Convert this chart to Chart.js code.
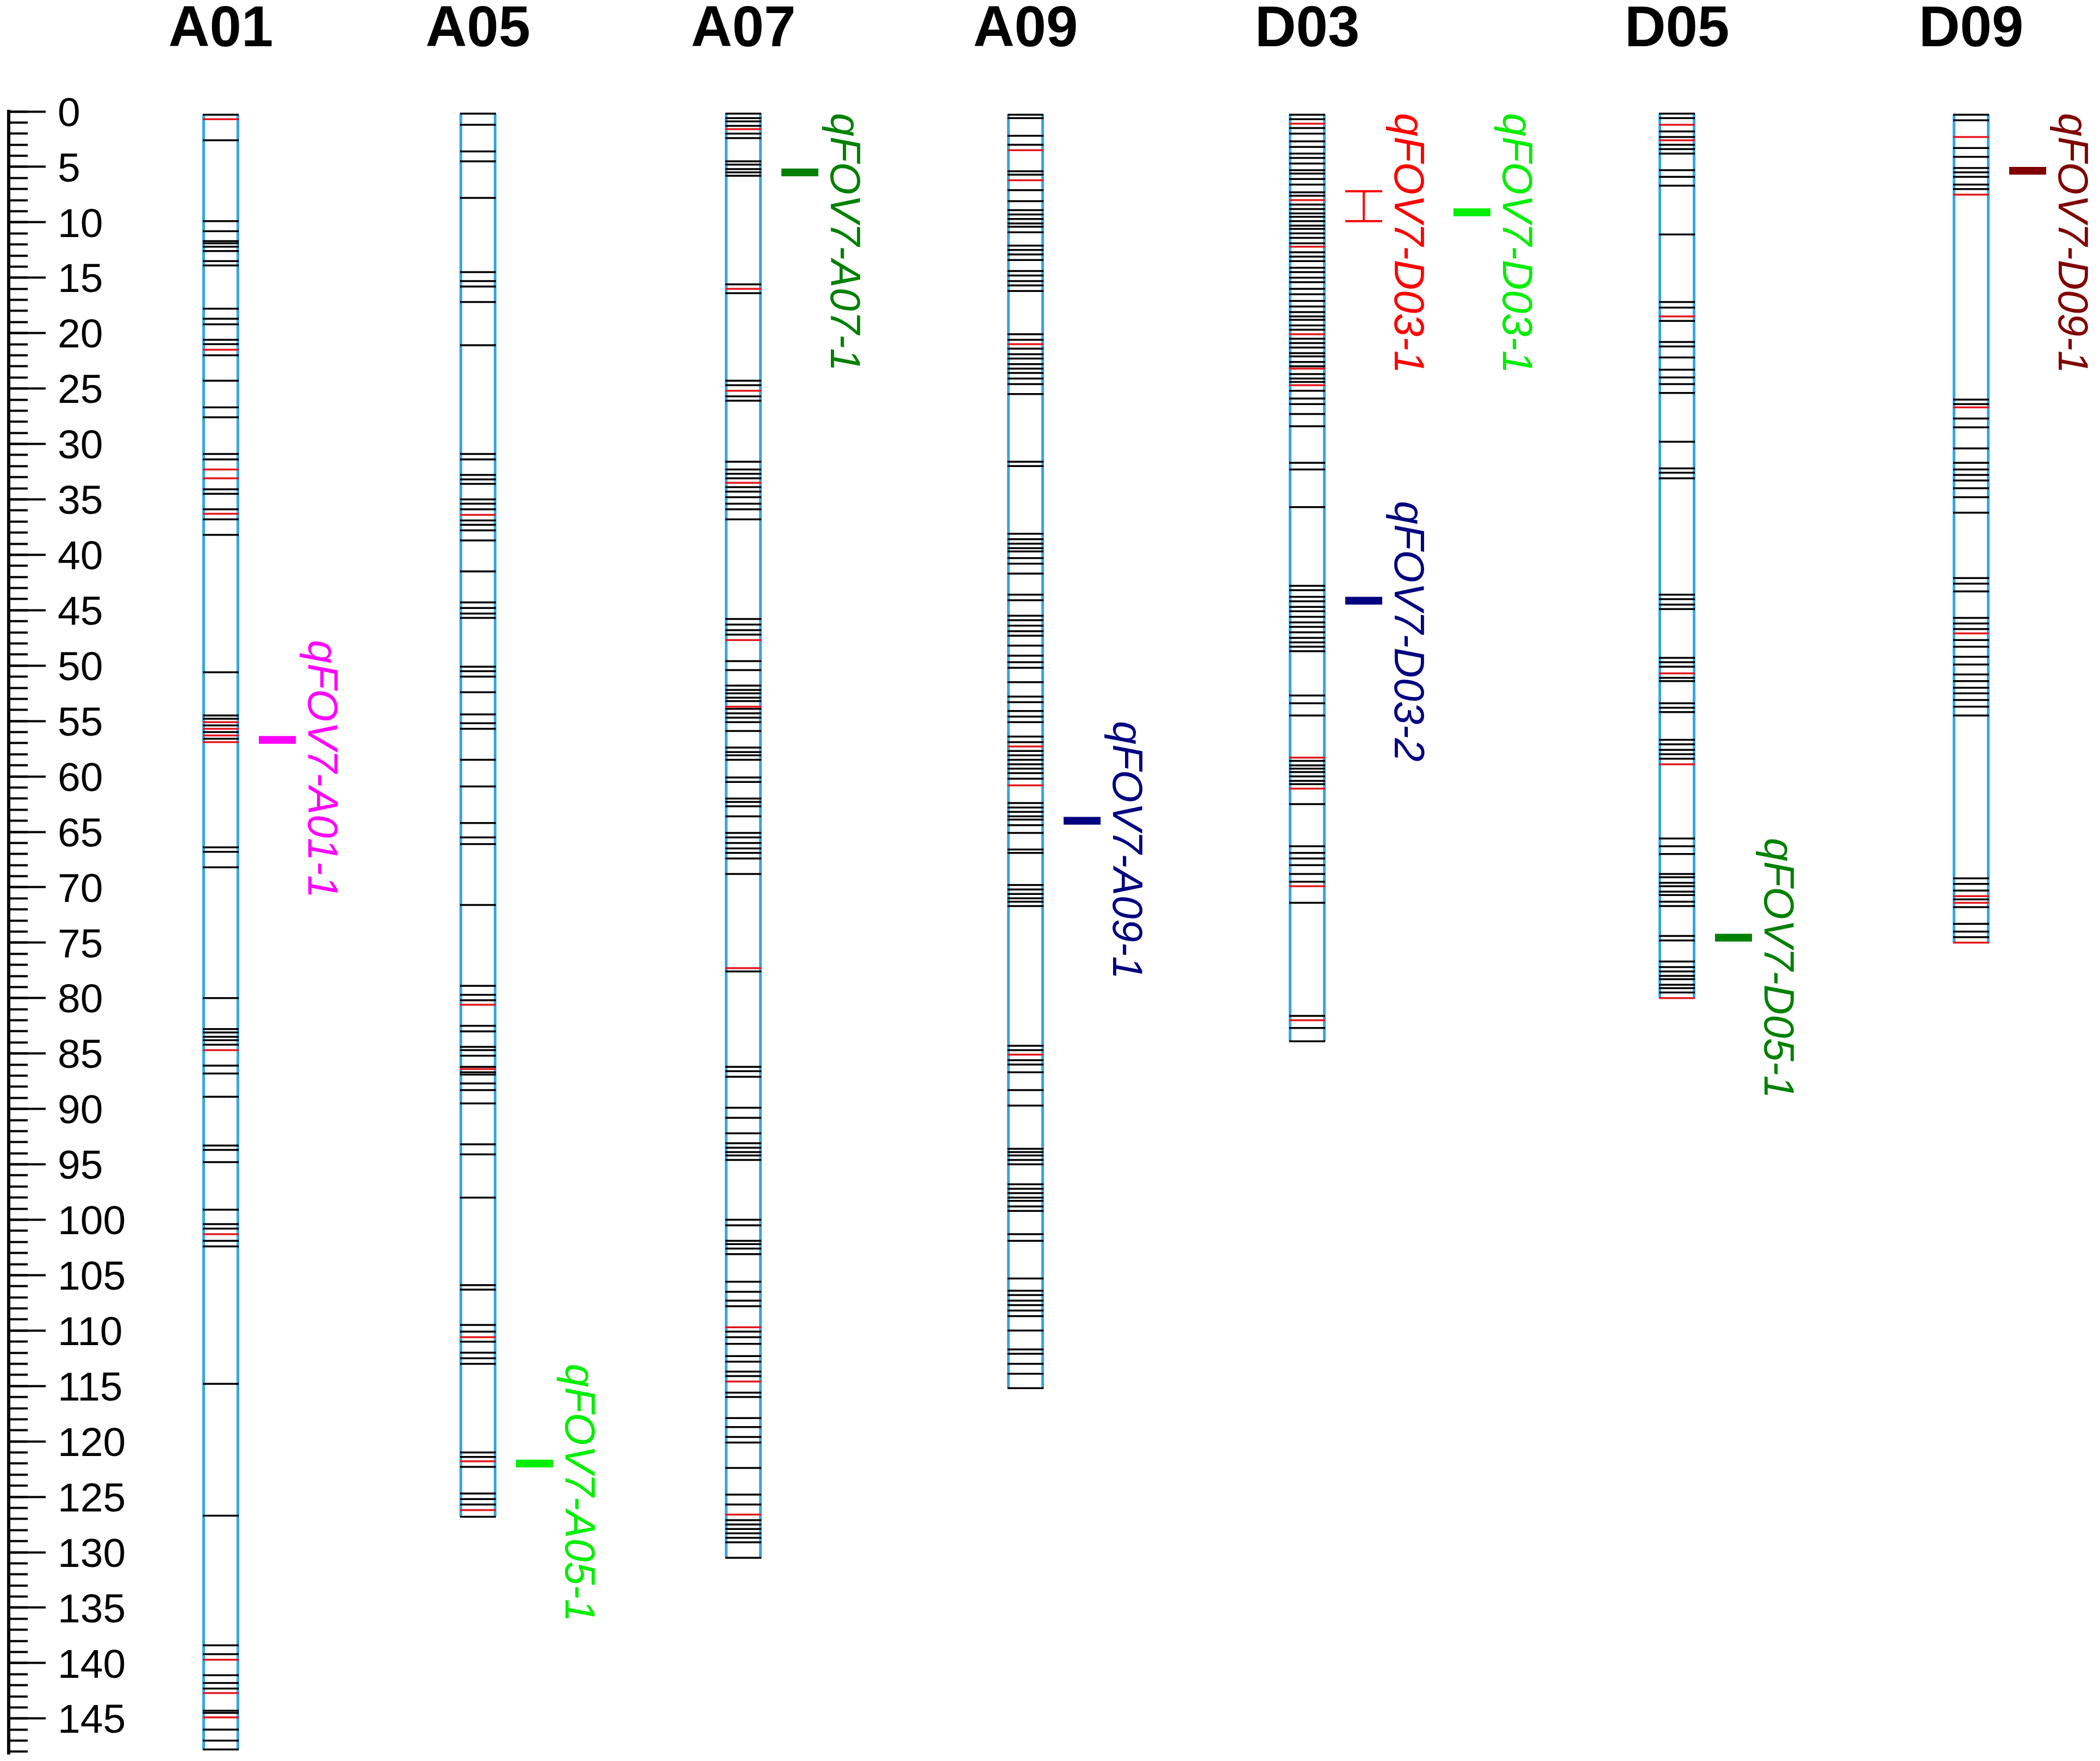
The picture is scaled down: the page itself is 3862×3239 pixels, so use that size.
<!DOCTYPE html>
<html>
<head>
<meta charset="utf-8">
<script src="https://cdn.jsdelivr.net/npm/chart.js@4.4.1/dist/chart.umd.min.js"></script>
<style>
html, body { margin: 0; padding: 0; background: #fff; }
#wrap { position: relative; width: 3862px; height: 3239px; }
#map, #ruler { position: absolute; left: 0; top: 0; }
</style>
</head>
<body>
<div id="wrap">
<canvas id="map" width="3862" height="3239"></canvas>
<canvas id="ruler" width="300" height="3239"></canvas>
</div>
<script>
// linkage groups
const chromNames = ['A01', 'A05', 'A07', 'A09', 'D03', 'D05', 'D09'];

// marker positions in cM (black = marker, red = highlighted marker)
const a01Black = [0.3, 2.6, 9.9, 10.8, 11.7, 11.9, 12.2, 12.6, 13.5, 13.9, 17.8, 18.7, 19.2, 20.6, 21.0, 22.0, 24.3, 26.7, 27.6, 30.9, 31.4, 34.1, 34.5, 35.9, 36.8, 38.2, 50.6, 54.5, 54.8, 55.4, 56.0, 56.6, 66.4, 66.8, 68.2, 80.0, 82.8, 83.1, 83.5, 83.8, 84.2, 86.1, 86.8, 88.9, 93.3, 93.7, 94.8, 99.1, 100.4, 100.8, 101.9, 102.4, 114.8, 126.7, 138.4, 139.2, 141.1, 141.8, 142.3, 144.3, 144.5, 146.0, 147.0, 147.8];
const a01Red = [0.7, 21.5, 32.3, 33.1, 36.3, 55.1, 55.7, 56.3, 56.9, 84.7, 101.3, 139.7, 142.7, 144.9];

const a05Black = [0.2, 1.2, 3.6, 4.5, 7.8, 14.5, 15.3, 15.8, 17.2, 21.1, 30.9, 31.4, 32.8, 33.2, 33.6, 35.0, 35.4, 35.9, 36.9, 37.3, 37.8, 38.7, 41.5, 44.3, 44.8, 45.3, 45.7, 50.1, 50.5, 51.0, 52.4, 54.4, 55.2, 55.7, 58.5, 60.9, 64.2, 65.5, 66.1, 71.6, 78.9, 79.7, 80.2, 82.5, 83.0, 84.4, 84.7, 85.2, 86.2, 86.7, 86.9, 87.7, 88.3, 89.5, 93.2, 94.1, 98.0, 105.9, 106.3, 109.5, 110.1, 111.0, 112.0, 112.5, 113.0, 121.0, 121.4, 122.3, 124.7, 125.2, 125.7, 126.8];
const a05Red = [36.4, 80.6, 86.4, 110.6, 121.8, 126.2];

const a07Black = [0.2, 0.6, 0.9, 1.3, 2.0, 2.4, 4.5, 4.8, 5.2, 5.5, 5.8, 15.6, 16.4, 24.3, 24.7, 25.7, 26.1, 31.6, 32.3, 32.7, 33.1, 33.9, 34.3, 34.8, 35.4, 35.9, 36.8, 45.8, 46.3, 46.8, 47.2, 49.6, 50.4, 51.8, 52.2, 52.5, 52.9, 53.2, 53.9, 54.3, 54.7, 55.1, 55.9, 57.4, 57.8, 58.1, 58.5, 60.1, 60.5, 62.0, 62.3, 62.7, 63.6, 65.1, 65.5, 66.0, 66.5, 66.9, 67.4, 68.8, 77.6, 86.2, 86.6, 87.1, 89.9, 90.8, 92.2, 93.1, 93.5, 93.9, 94.2, 94.6, 100.0, 100.5, 101.9, 102.2, 102.6, 103.1, 105.6, 106.5, 107.3, 107.8, 110.1, 110.6, 111.2, 112.3, 112.8, 113.7, 114.1, 115.6, 116.0, 117.9, 118.7, 119.6, 120.1, 122.4, 124.8, 125.7, 127.1, 127.5, 127.9, 128.3, 128.7, 129.1, 130.5];
const a07Red = [1.6, 16.0, 25.2, 33.5, 47.7, 53.7, 77.3, 109.7, 114.6, 126.6];

const a09Black = [0.3, 0.6, 2.2, 3.0, 5.4, 5.7, 7.1, 8.1, 8.9, 9.3, 9.7, 10.1, 10.4, 10.9, 12.1, 12.5, 12.9, 13.4, 14.4, 14.8, 15.3, 15.7, 16.2, 20.1, 20.6, 21.4, 21.9, 22.3, 22.8, 23.2, 23.6, 24.1, 24.6, 25.5, 31.6, 32.0, 38.1, 38.6, 39.0, 39.4, 39.7, 40.3, 40.8, 41.7, 43.6, 44.1, 45.5, 45.9, 46.4, 46.9, 47.3, 48.2, 49.1, 49.7, 50.2, 51.5, 52.8, 53.3, 54.1, 54.6, 55.1, 56.4, 56.9, 57.7, 58.1, 58.5, 58.9, 59.3, 59.7, 60.2, 62.4, 62.8, 63.2, 63.6, 63.9, 64.4, 65.1, 66.6, 66.9, 69.8, 70.2, 70.6, 71.0, 71.3, 71.7, 84.3, 84.7, 85.6, 86.0, 86.7, 88.3, 89.7, 93.6, 93.9, 94.2, 94.6, 95.0, 96.8, 97.2, 97.6, 98.0, 98.3, 98.8, 99.2, 101.3, 101.9, 105.3, 106.4, 106.8, 107.3, 107.7, 108.2, 108.7, 110.0, 111.7, 112.1, 113.0, 113.9, 115.2];
const a09Red = [3.5, 6.2, 21.0, 57.3, 60.8, 85.1];

const d03Black = [0.3, 0.7, 1.5, 2.0, 2.7, 3.2, 3.8, 4.2, 4.7, 5.3, 5.6, 6.1, 6.6, 7.3, 7.6, 8.4, 8.8, 9.2, 9.5, 9.9, 10.3, 10.6, 11.0, 11.4, 11.9, 12.7, 13.1, 13.5, 14.1, 14.5, 15.0, 15.4, 16.0, 16.5, 17.1, 17.6, 18.1, 18.5, 18.8, 19.3, 19.7, 20.5, 20.9, 21.3, 21.8, 22.1, 22.6, 23.0, 23.7, 24.1, 24.4, 25.2, 25.9, 26.4, 27.3, 28.4, 31.7, 32.3, 35.7, 42.8, 43.2, 43.8, 44.2, 44.7, 45.1, 45.6, 46.1, 46.5, 47.0, 47.5, 47.9, 48.3, 48.7, 52.7, 53.4, 54.5, 58.6, 59.0, 59.3, 59.6, 60.0, 60.4, 60.7, 62.5, 66.3, 66.9, 67.4, 68.0, 68.8, 69.5, 71.4, 81.6, 82.7, 83.9];
const d03Red = [1.1, 8.0, 12.2, 20.1, 23.2, 24.7, 58.3, 61.1, 69.9, 82.0];

const d05Black = [0.2, 0.6, 1.8, 2.3, 3.0, 3.4, 3.8, 5.3, 5.9, 6.7, 11.1, 17.2, 17.7, 18.9, 20.8, 21.2, 22.2, 23.3, 24.0, 24.6, 25.4, 29.8, 32.2, 32.6, 33.1, 43.6, 44.0, 44.5, 44.9, 49.3, 49.7, 50.1, 51.1, 51.4, 53.4, 53.8, 54.2, 56.7, 57.1, 57.6, 58.0, 58.4, 65.6, 66.3, 67.0, 68.8, 69.1, 69.6, 69.9, 70.4, 70.7, 71.3, 71.7, 74.4, 74.8, 76.7, 77.2, 77.6, 78.0, 78.3, 78.8, 79.1, 79.5];
const d05Red = [1.2, 2.6, 18.5, 50.7, 58.9, 80.0];

const d09Black = [0.3, 0.8, 3.3, 4.1, 5.1, 5.5, 5.9, 6.6, 7.0, 26.0, 26.4, 27.7, 28.5, 30.4, 31.7, 32.3, 32.8, 33.3, 34.0, 34.8, 36.2, 42.1, 42.6, 43.3, 45.7, 46.2, 46.7, 47.7, 48.3, 49.2, 49.9, 50.8, 51.4, 52.0, 52.5, 53.1, 53.7, 54.5, 69.2, 69.7, 70.3, 71.1, 71.8, 73.3, 74.0, 74.5];
const d09Red = [2.3, 7.5, 26.7, 47.1, 70.8, 71.4, 75.0];

// QTLs: box = peak interval, ci = whisker interval (only drawn where wider)
const qtlNames = ['qFOV7-A01-1', 'qFOV7-A05-1', 'qFOV7-A07-1', 'qFOV7-A09-1', 'qFOV7-D03-1', 'qFOV7-D03-1', 'qFOV7-D03-2', 'qFOV7-D05-1', 'qFOV7-D09-1'];
const qtlChrom = ['A01', 'A05', 'A07', 'A09', 'D03', 'D03', 'D03', 'D05', 'D09'];
const qtlLane = [0, 0, 0, 0, 0, 1, 0, 0, 0];
const qtlLow = [56.35, 121.65, 5.15, 63.65, null, 8.75, 43.8, 74.2, 5.0];
const qtlHigh = [57.05, 122.35, 5.85, 64.35, null, 9.45, 44.5, 74.9, 5.7];
const qtlCiLow = [null, null, null, null, 7.2, null, null, null, null];
const qtlCiHigh = [null, null, null, null, 9.9, null, null, null, null];

// layout and style
const W = 3862;
const Y_MAX = 148.2;
const TOP_PX = 205;
const BOTTOM_PAD = 13;
const COL_X = [406, 879, 1367, 1886, 2404, 3084, 3625];
const QTL_DX = 104;
const LANE_DX = 199;
const LABEL_DX = 57;
const QTL_COLORS = ['#FF00FF', '#00EE00', '#008000', '#000080', '#FF0000', '#00EE00', '#000080', '#008000', '#800000'];
const CHROM_BLUE = '#35A7DF';
const MARK_RED = '#E3171E';

Chart.defaults.font.family = '"Liberation Sans", Arial, Helvetica, sans-serif';

const blackSets = [a01Black, a05Black, a07Black, a09Black, d03Black, d05Black, d09Black];
const redSets = [a01Red, a05Red, a07Red, a09Red, d03Red, d05Red, d09Red];

function markerPoints(sets) {
    const out = [];
    sets.forEach((list, i) => list.forEach(y => out.push({x: COL_X[i], y: y})));
    return out;
}

const chromBars = chromNames.map((name, i) => {
    const all = blackSets[i].concat(redSets[i]);
    return {x: COL_X[i], y: [Math.min(...all), Math.max(...all)]};
});

const qtlX = qtlChrom.map((c, k) => COL_X[chromNames.indexOf(c)] + QTL_DX + qtlLane[k] * LANE_DX);

const qtlBoxes = [];
const qtlBoxColors = [];
const capPoints = [];
const capColors = [];
const stemPoints = [];
let stemColor = '#000';
qtlNames.forEach((name, k) => {
    if (qtlLow[k] !== null) {
        qtlBoxes.push({x: qtlX[k], y: [qtlLow[k], qtlHigh[k]]});
        qtlBoxColors.push(QTL_COLORS[k]);
    }
    if (qtlCiLow[k] !== null) {
        capPoints.push({x: qtlX[k], y: qtlCiLow[k]}, {x: qtlX[k], y: qtlCiHigh[k]});
        capColors.push(QTL_COLORS[k], QTL_COLORS[k]);
        stemPoints.push({x: qtlX[k], y: qtlCiLow[k]}, {x: qtlX[k], y: qtlCiHigh[k]});
        stemColor = QTL_COLORS[k];
    }
});

function qtlMid(k) {
    if (qtlLow[k] !== null) return (qtlLow[k] + qtlHigh[k]) / 2;
    return (qtlCiLow[k] + qtlCiHigh[k]) / 2;
}

// rotated QTL names beside the bars
const qtlLabels = {
    id: 'qtlLabels',
    afterDatasetsDraw(chart) {
        const ctx = chart.ctx;
        const xs = chart.scales.x;
        const ys = chart.scales.y;
        ctx.save();
        ctx.font = 'italic 77px "Liberation Sans", Arial, sans-serif';
        ctx.textAlign = 'left';
        ctx.textBaseline = 'alphabetic';
        qtlNames.forEach((name, k) => {
            const px = xs.getPixelForValue(qtlX[k] + LABEL_DX);
            const py = ys.getPixelForValue(Math.max(qtlMid(k) - 9, 0.15));
            ctx.save();
            ctx.translate(px, py);
            ctx.rotate(Math.PI / 2);
            ctx.fillStyle = QTL_COLORS[k];
            ctx.fillText(name, 0, 0);
            ctx.restore();
        });
        ctx.restore();
    }
};

new Chart(document.getElementById('map'), {
    type: 'scatter',
    data: {
        datasets: [{
            type: 'bar',
            data: chromBars,
            backgroundColor: '#ffffff',
            borderColor: CHROM_BLUE,
            borderWidth: {left: 5, right: 5, top: 0, bottom: 0},
            borderSkipped: false,
            grouped: false,
            maxBarThickness: 68,
            clip: false,
            order: 5
        }, {
            type: 'scatter',
            data: markerPoints(blackSets),
            pointStyle: 'line',
            pointRadius: 33,
            pointBorderWidth: 3.5,
            pointBorderColor: '#000000',
            borderColor: '#000000',
            clip: false,
            order: 4
        }, {
            type: 'scatter',
            data: markerPoints(redSets),
            pointStyle: 'line',
            pointRadius: 33,
            pointBorderWidth: 3.5,
            pointBorderColor: MARK_RED,
            borderColor: MARK_RED,
            clip: false,
            order: 3
        }, {
            type: 'bar',
            data: qtlBoxes,
            backgroundColor: qtlBoxColors,
            borderWidth: 0,
            grouped: false,
            maxBarThickness: 68,
            clip: false,
            order: 2
        }, {
            type: 'scatter',
            data: capPoints,
            pointStyle: 'line',
            pointRadius: 34,
            pointBorderWidth: 4,
            pointBorderColor: capColors,
            borderColor: capColors,
            clip: false,
            order: 1
        }, {
            type: 'line',
            data: stemPoints,
            borderColor: stemColor,
            borderWidth: 4,
            pointRadius: 0,
            clip: false,
            order: 1
        }]
    },
    options: {
        responsive: false,
        devicePixelRatio: 1,
        animation: false,
        events: [],
        layout: {autoPadding: false, padding: {top: 0, bottom: BOTTOM_PAD, left: 0, right: 0}},
        plugins: {legend: {display: false}, tooltip: {enabled: false}},
        scales: {
            x: {
                type: 'linear',
                position: 'top',
                offset: false,
                min: 0,
                max: W,
                afterBuildTicks: function (scale) {
                    scale.ticks = COL_X.map(v => ({value: v}));
                },
                afterFit: function (scale) {
                    scale.height = TOP_PX;
                },
                ticks: {
                    autoSkip: false,
                    maxRotation: 0,
                    padding: 86,
                    color: '#000000',
                    font: {size: 105, weight: 'bold'},
                    callback: function (value, index) {
                        return chromNames[index];
                    }
                },
                grid: {display: false, drawTicks: false, offset: false},
                border: {display: false}
            },
            y: {
                type: 'linear',
                display: false,
                reverse: true,
                min: 0,
                max: Y_MAX
            }
        }
    },
    plugins: [qtlLabels]
});

// cM ruler on the left
new Chart(document.getElementById('ruler'), {
    type: 'scatter',
    data: {datasets: []},
    options: {
        responsive: false,
        devicePixelRatio: 1,
        animation: false,
        events: [],
        layout: {autoPadding: false, padding: {top: TOP_PX, bottom: BOTTOM_PAD, left: 0, right: 0}},
        plugins: {legend: {display: false}, tooltip: {enabled: false}},
        scales: {
            x: {type: 'linear', display: false, min: 0, max: 1},
            yMinor: {
                axis: 'y',
                type: 'linear',
                position: 'right',
                reverse: true,
                min: 0,
                max: Y_MAX,
                ticks: {display: false, stepSize: 1, includeBounds: false},
                grid: {drawOnChartArea: false, tickLength: 35, tickWidth: 4, tickColor: '#000000'},
                border: {display: false},
                afterFit: function (scale) {
                    scale.width = 0;
                }
            },
            yMajor: {
                axis: 'y',
                type: 'linear',
                position: 'right',
                reverse: true,
                min: 0,
                max: Y_MAX,
                ticks: {
                    stepSize: 5,
                    includeBounds: false,
                    autoSkip: false,
                    padding: 22,
                    labelOffset: 6,
                    color: '#000000',
                    font: {size: 75},
                    callback: function (value) {
                        return value % 5 === 0 ? String(value) : '';
                    }
                },
                grid: {drawOnChartArea: false, tickLength: 68, tickWidth: 4, tickColor: '#000000'},
                border: {display: true, color: '#000000', width: 6},
                afterFit: function (scale) {
                    scale.width = 284;
                    scale.paddingTop = 0;
                    scale.paddingBottom = 0;
                }
            }
        }
    }
});
</script>
</body>
</html>
